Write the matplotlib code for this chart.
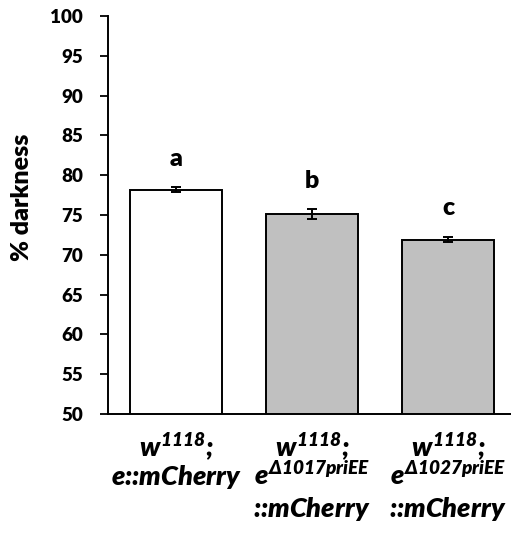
"""Bar chart of % darkness for three genotypes."""

import matplotlib.pyplot as plt
import numpy as np

plt.rcParams['font.family'] = ['Lato', 'DejaVu Sans']
plt.rcParams['font.weight'] = 'heavy'
plt.rcParams['mathtext.fontset'] = 'custom'
plt.rcParams['mathtext.it'] = 'Lato:italic:heavy'
plt.rcParams['mathtext.rm'] = 'Lato:italic:heavy'
plt.rcParams['mathtext.bf'] = 'Lato:italic:heavy'

# data
values = [78.2, 75.1, 71.9]
errors = [0.3, 0.6, 0.35]
letters = ['a', 'b', 'c']
bar_colors = ['white', '#c0c0c0', '#c0c0c0']
label_lines = [
    [r'$w^{1118}$;', r'$e$::$mCherry$', ''],
    [r'$w^{1118}$;', r'$e^{\Delta 1017 priEE}$', r'::$mCherry$'],
    [r'$w^{1118}$;', r'$e^{\Delta 1027 priEE}$', r'::$mCherry$'],
]
yticks = np.arange(50, 101, 5)

fig = plt.figure(figsize=(5.11, 5.34), dpi=100)
ax = fig.add_axes([0.2114, 0.2247, 0.7886, 0.7453])

x = np.arange(len(values))
ax.bar(x, values, width=0.67, color=bar_colors, edgecolor='black',
       linewidth=1.4, zorder=2)
ax.errorbar(x, values, yerr=errors, fmt='none', ecolor='black',
            elinewidth=1.4, capsize=3.5, capthick=1.4, zorder=3)

for xi, v, e, s in zip(x, values, errors, letters):
    ax.text(xi, v + e + 2.2, s, ha='center', va='bottom',
            fontsize=18, fontweight='heavy')

ax.set_ylim(50, 100)
ax.set_xlim(-0.5, 2.463)
ax.set_yticks(yticks)
ax.set_yticklabels([str(t) for t in yticks], fontsize=13.6, fontweight='heavy')
ax.tick_params(axis='y', direction='out', length=6, width=1.3, pad=12)
ax.set_xticks([])

for side in ['top', 'right']:
    ax.spines[side].set_visible(False)
for side in ['left', 'bottom']:
    ax.spines[side].set_linewidth(1.4)

# multi-line category labels
trans = ax.get_xaxis_transform()
line_y = [-0.108, -0.178, -0.259]
for xi, lines in zip(x, label_lines):
    for yy, txt in zip(line_y, lines):
        if txt:
            ax.text(xi, yy, txt, transform=trans, ha='center',
                    va='baseline', fontsize=19.5, fontweight='heavy',
                    fontstyle='italic', clip_on=False)

fig.text(22 / 511, 1 - 197 / 534, '% darkness', rotation=90,
         ha='center', va='center', fontsize=18, fontweight='heavy')

fig.savefig('out.png', dpi=100)
